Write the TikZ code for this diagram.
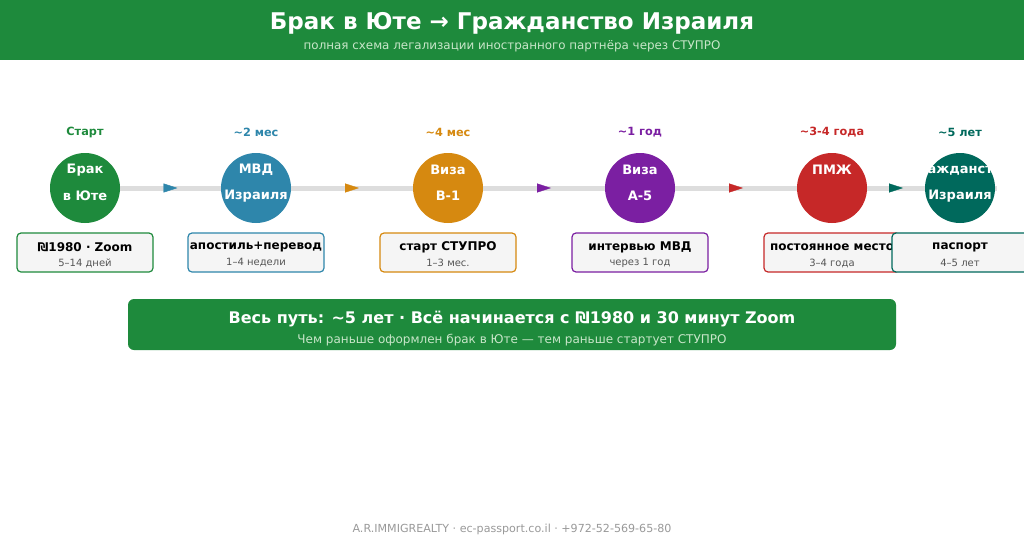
\documentclass[tikz,border=0pt]{standalone}
\usepackage{fontspec}
\setmainfont{DejaVu Sans}
\usetikzlibrary{backgrounds,decorations.markings,arrows.meta}
\definecolor{cgreen}{HTML}{1E8A3C}
\definecolor{cblue}{HTML}{2E86AB}
\definecolor{corange}{HTML}{D68910}
\definecolor{cpurple}{HTML}{7B1FA2}
\definecolor{cred}{HTML}{C62828}
\definecolor{cteal}{HTML}{00695C}
\definecolor{lightsub}{HTML}{C8E6C9}
\definecolor{trackgray}{HTML}{DDDDDD}
\definecolor{boxfill}{HTML}{F5F5F5}
\definecolor{subgray}{HTML}{555555}
\definecolor{footgray}{HTML}{999999}
\tikzset{
  stage/.style={circle, minimum size=70pt, inner sep=0pt},
  period/.style={font=\fontsize{11.3}{13}\selectfont\bfseries},
  ctext/.style={font=\fontsize{13}{15}\selectfont\bfseries, text=white},
  infobox/.style={rectangle, rounded corners=4pt, minimum width=136pt, minimum height=39pt, fill=boxfill, line width=1.2pt},
  boxtitle/.style={font=\fontsize{12}{14}\selectfont\bfseries, text=black},
  boxsub/.style={font=\fontsize{10}{12}\selectfont, text=subgray},
  track/.style={draw=trackgray, line width=5pt},
  flow/.style={postaction={decorate, decoration={markings, mark=at position 0.5 with {\arrow[xshift=7pt]{Triangle[length=14pt,width=9pt]}}}}}
}
\begin{document}
\begin{tikzpicture}[x=1pt,y=-1pt]
\useasboundingbox (0,0) rectangle (1024,538);
% header
\fill[cgreen] (0,0) rectangle (1024,60);
\node[font=\fontsize{23}{27}\selectfont\bfseries, text=white] (title) at (512,23) {Брак в Юте → Гражданство Израиля};
\node[font=\fontsize{11.9}{14}\selectfont, text=lightsub] (subtitle) at (512,46) {полная схема легализации иностранного партнёра через СТУПРО};

% stages
\node[stage, fill=cgreen] (s1) at (85,188) {};
\node[stage, fill=cblue] (s2) at (256,188) {};
\node[stage, fill=corange] (s3) at (448,188) {};
\node[stage, fill=cpurple] (s4) at (640,188) {};
\node[stage, fill=cred] (s5) at (832,188) {};
\node[stage, fill=cteal] (s6) at (960,188) {};
\coordinate (trackend) at (997,188);

\begin{scope}[on background layer]
\fill[white] (0,60) rectangle (1024,538);
\draw[track] (s1.center) -- (trackend);
\end{scope}
\path[flow, cblue] (s1) -- (s2);
\path[flow, corange] (s2) -- (s3);
\path[flow, cpurple] (s3) -- (s4);
\path[flow, cred] (s4) -- (s5);
\path[flow, cteal] (s5) -- (s6);

% circle texts
\node[ctext] (t1a) at (85,170) {Брак};
\node[ctext] (t1b) at (85,196) {в Юте};
\node[ctext] (t2a) at (256,170) {МВД};
\node[ctext] (t2b) at (256,196) {Израиля};
\node[ctext] (t3a) at (448,170) {Виза};
\node[ctext] (t3b) at (448,196) {В-1};
\node[ctext] (t4a) at (640,170) {Виза};
\node[ctext] (t4b) at (640,196) {А-5};
\node[ctext] (t5a) at (832,170) {ПМЖ};
\node[ctext] (t6a) at (960,170) {Гражданство};
\node[ctext] (t6b) at (960,196) {Израиля};

% periods
\node[period, text=cgreen] (p1) at (85,132.5) {Старт};
\node[period, text=cblue] (p2) at (256,132.5) {\textasciitilde2 мес};
\node[period, text=corange] (p3) at (448,132.5) {\textasciitilde4 мес};
\node[period, text=cpurple] (p4) at (640,132.5) {\textasciitilde1 год};
\node[period, text=cred] (p5) at (832,132.5) {\textasciitilde3-4 года};
\node[period, text=cteal] (p6) at (960,132.5) {\textasciitilde5 лет};

% info boxes
\node[infobox, draw=cgreen] (b1) at (85,252.5) {};
\node[boxtitle] (b1t) at (85,247.3) {₪1980 · Zoom};
\node[boxsub] (b1s) at (85,263) {5–14 дней};
\node[infobox, draw=cblue] (b2) at (256,252.5) {};
\node[boxtitle] (b2t) at (256,247.3) {апостиль+перевод};
\node[boxsub] (b2s) at (256,263) {1–4 недели};
\node[infobox, draw=corange] (b3) at (448,252.5) {};
\node[boxtitle] (b3t) at (448,247.3) {старт СТУПРО};
\node[boxsub] (b3s) at (448,263) {1–3 мес.};
\node[infobox, draw=cpurple] (b4) at (640,252.5) {};
\node[boxtitle] (b4t) at (640,247.3) {интервью МВД};
\node[boxsub] (b4s) at (640,263) {через 1 год};
\node[infobox, draw=cred] (b5) at (832,252.5) {};
\node[boxtitle] (b5t) at (832,247.3) {постоянное место};
\node[boxsub] (b5s) at (832,263) {3–4 года};
\node[infobox, draw=cteal] (b6) at (960,252.5) {};
\node[boxtitle] (b6t) at (960,247.3) {паспорт};
\node[boxsub] (b6s) at (960,263) {4–5 лет};

% summary banner
\node[rectangle, rounded corners=6pt, fill=cgreen, minimum width=768pt, minimum height=51pt] (banner) at (512,324.5) {};
\node[font=\fontsize{16}{19}\selectfont\bfseries, text=white] (bant) at (512,319) {Весь путь: \textasciitilde5 лет · Всё начинается с ₪1980 и 30 минут Zoom};
\node[font=\fontsize{12}{14}\selectfont, text=lightsub] (bans) at (512,340) {Чем раньше оформлен брак в Юте — тем раньше стартует СТУПРО};

% footer
\node[font=\fontsize{11.1}{13}\selectfont, text=footgray] (footer) at (512,529) {A.R.IMMIGREALTY · ec-passport.co.il · +972-52-569-65-80};
\end{tikzpicture}
\end{document}
